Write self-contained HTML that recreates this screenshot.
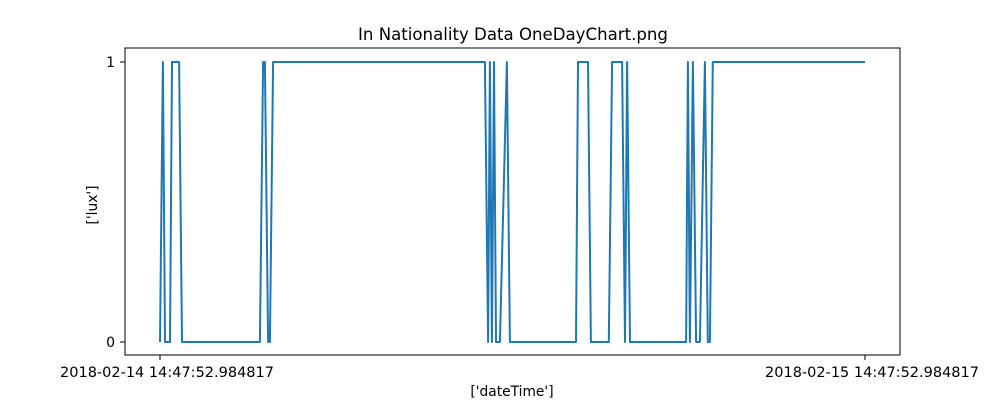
<!DOCTYPE html>
<html><head><meta charset="utf-8"><style>
body{margin:0;background:#fff;}
svg text{font-family:"DejaVu Sans","Liberation Sans",sans-serif;fill:#000;}
</style></head><body>
<svg width="1000" height="400">
<rect width="1000" height="400" fill="#fff"/>
<text x="513" y="40" font-size="16.6" text-anchor="middle">In Nationality Data OneDayChart.png</text>
<g id="axes"></g>
<path id="line" fill="none" stroke="#1f77b4" stroke-width="2" stroke-linejoin="round"/>
<rect x="125" y="48" width="775" height="307" fill="none" stroke="#000" stroke-width="1"/>
<text x="512" y="396" font-size="13.8" text-anchor="middle">['dateTime']</text>
<text x="97" y="205" font-size="13.8" text-anchor="middle" transform="rotate(-90 97 205)">['lux']</text>
</svg>
<script>
const hours=[0,0.10,0.17,0.34,0.41,0.65,0.75,3.40,3.51,3.57,3.68,3.74,3.85,11.06,11.17,11.23,11.30,11.37,11.44,11.57,11.81,11.91,14.16,14.23,14.57,14.67,15.28,15.39,15.73,15.83,15.90,16.00,17.91,17.97,18.04,18.14,18.25,18.38,18.55,18.65,18.72,18.82,24];
const lux=[0,1,0,0,1,1,0,0,1,1,0,0,1,1,0,1,0,1,0,0,1,0,0,1,1,0,0,1,1,0,1,0,0,1,0,1,0,0,1,0,0,1,1];
const xTickHours=[0,24];
const xTickLabels=["2018-02-14 14:47:52.984817","2018-02-15 14:47:52.984817"];
const yTicks=[0,1];
const X=h=>160+h/24*705, Y=v=>342-v*280;
const ns="http://www.w3.org/2000/svg";
document.getElementById('line').setAttribute('d',hours.map((h,i)=>(i?'L':'M')+X(h).toFixed(1)+','+Y(lux[i]).toFixed(1)).join(''));
const g=document.getElementById('axes');
xTickHours.forEach((h,i)=>{
 const l=document.createElementNS(ns,'line');
 l.setAttribute('x1',X(h));l.setAttribute('x2',X(h));l.setAttribute('y1',355);l.setAttribute('y2',360);l.setAttribute('stroke','#000');
 
 
 g.appendChild(l);
 const t=document.createElementNS(ns,'text');
 t.setAttribute('x',X(h)+7);t.setAttribute('y',377);t.setAttribute('font-size','14.5');t.setAttribute('text-anchor','middle');
 t.textContent=xTickLabels[i];
 
 
 g.appendChild(t);
});
yTicks.forEach(v=>{
 const l=document.createElementNS(ns,'line');
 l.setAttribute('x1',120);l.setAttribute('x2',125);l.setAttribute('y1',Y(v));l.setAttribute('y2',Y(v));l.setAttribute('stroke','#000');
 
 
 g.appendChild(l);
 const t=document.createElementNS(ns,'text');
 t.setAttribute('x',115);t.setAttribute('y',Y(v)+5);t.setAttribute('font-size','14');t.setAttribute('text-anchor','end');
 t.textContent=v;
 
 
 g.appendChild(t);
});
</script>
</body></html>
